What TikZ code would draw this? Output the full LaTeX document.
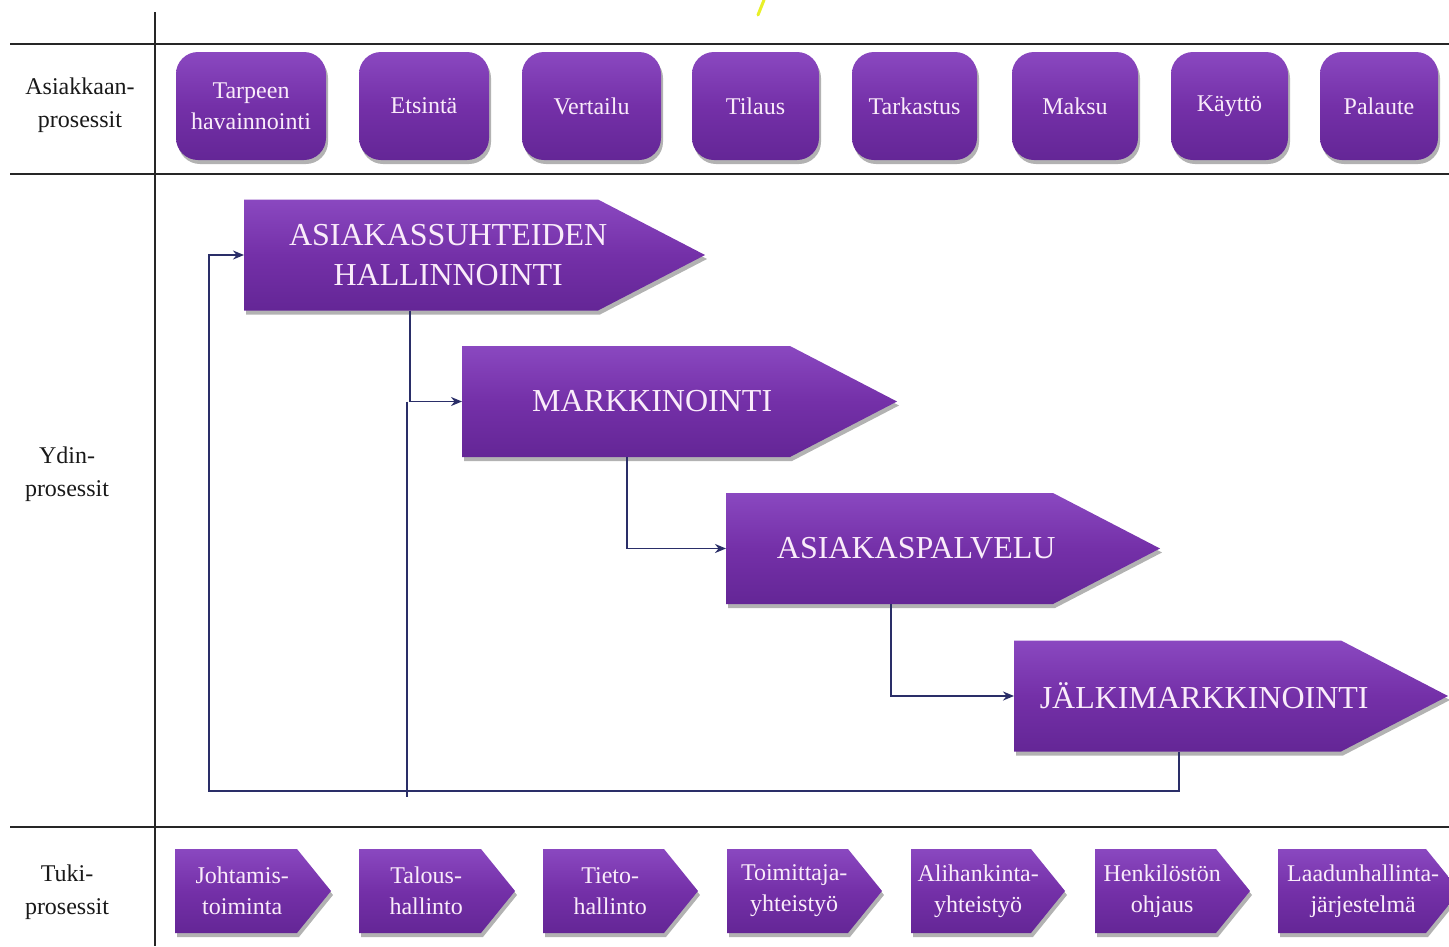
\documentclass[tikz,border=0pt]{standalone}
\usepackage{fontspec}
\setmainfont{Liberation Serif}
\usetikzlibrary{shadows,backgrounds,calc,arrows.meta}

\definecolor{procpurple}{RGB}{116,48,168}
\definecolor{proclight}{RGB}{138,72,192}
\definecolor{procdark}{RGB}{100,38,150}
\definecolor{proctext}{RGB}{250,236,250}
\definecolor{flowline}{RGB}{42,46,104}
\definecolor{stray}{RGB}{232,240,40}

\tikzset{
  lanerule/.style={line width=1.6pt, black!85},
  lanelabel/.style={align=center, font=\fontsize{24}{33}\selectfont, text=black!90},
  purplefill/.style={top color=proclight, bottom color=procdark, middle color=procpurple,
    drop shadow={shadow xshift=2pt, shadow yshift=-4pt, opacity=0.3, fill=black}},
  custbox/.style={purplefill, rounded corners=22pt, minimum height=108pt,
    align=center, text=proctext, font=\fontsize{24}{31}\selectfont, inner sep=0pt},
  corenode/.style={anchor=west, minimum width=380pt, minimum height=111pt, inner sep=0pt,
    align=center, text=proctext, font=\fontsize{32}{40}\selectfont},
  supportnode/.style={anchor=west, minimum height=84pt, inner sep=0pt,
    align=center, text=proctext, font=\fontsize{24}{31}\selectfont},
  flow/.style={draw=flowline, line width=1.8pt, -{Stealth[length=11pt,width=9pt]}},
  flowplain/.style={draw=flowline, line width=1.8pt},
}

% core process arrow: name, left x, centre y, body length, text (node options first)
\newcommand\corearrow[6][]{%
  \node[corenode,#1] (#2) at (#3,#4) {#6};
  \begin{scope}[on background layer]
    \path[purplefill] (#3,#4-55.5) -- (#3+#5,#4-55.5) -- (#3+#5+107,#4)
      -- (#3+#5,#4+55.5) -- (#3,#4+55.5) -- cycle;
  \end{scope}}

% support process arrow: name, left x, node width, body length, text
\newcommand\supportarrow[5]{%
  \node[supportnode, minimum width=#3pt] (#1) at (#2,891) {#5};
  \begin{scope}[on background layer]
    \path[purplefill] (#2,849) -- (#2+#4,849) -- (#2+#4+34,891)
      -- (#2+#4,933) -- (#2,933) -- cycle;
  \end{scope}}

\begin{document}
\begin{tikzpicture}[x=1pt, y=-1pt]
\useasboundingbox (0,0) rectangle (1449,946);

% lane grid
\draw[lanerule] (155,12) -- (155,946);
\draw[lanerule] (10,44) -- (1449,44);
\draw[lanerule] (10,174) -- (1449,174);
\draw[lanerule] (10,827) -- (1449,827);

% small yellow stroke at the top edge
\draw[stray, line width=3pt, line cap=round] (764,0) -- (758,15);

% lane labels
\node[lanelabel] (lblcust) at (80,105) {Asiakkaan-\\prosessit};
\node[lanelabel] (lblcore) at (67,474) {Ydin-\\prosessit};
\node[lanelabel] (lblsupp) at (67,892) {Tuki-\\prosessit};

% customer processes
\node[custbox, minimum width=150pt] (c1) at (251,106) {Tarpeen\\havainnointi};
\node[custbox, minimum width=130pt] (c2) at (424,106) {Etsintä};
\node[custbox, minimum width=139pt] (c3) at (591.5,106) {Vertailu};
\node[custbox, minimum width=127pt] (c4) at (755.5,106) {Tilaus};
\node[custbox, minimum width=125pt] (c5) at (914.5,106) {Tarkastus};
\node[custbox, minimum width=126pt] (c6) at (1075,106) {Maksu};
\node[custbox, minimum width=117pt] (c7) at (1229.5,106) {Käyttö};
\node[custbox, minimum width=118pt] (c8) at (1379,106) {Palaute};

% core processes
\corearrow[minimum width=408pt]{crm}{244}{255}{354}{ASIAKASSUHTEIDEN\\HALLINNOINTI}
\corearrow{mark}{462}{401.5}{328}{MARKKINOINTI}
\corearrow{serv}{726}{548.5}{327}{ASIAKASPALVELU}
\corearrow{after}{1014}{696}{327}{JÄLKIMARKKINOINTI}

% flow between core processes
\coordinate (loopjoin) at (407,797);
\coordinate (loopcorner) at (209,791);
\draw[flow] ([xshift=166pt]crm.south west) |- (mark.west);
\draw[flowplain] (mark.west -| loopjoin) -- (loopjoin);
\draw[flow] ([xshift=165pt]mark.south west) |- (serv.west);
\draw[flow] ([xshift=165pt]serv.south west) |- (after.west);
\draw[flow] ([xshift=165pt]after.south west) |- (loopcorner) |- (crm.west);

% support processes
\supportarrow{s1}{175}{134}{122}{Johtamis-\\toiminta}
\supportarrow{s2}{359}{134}{122}{Talous-\\hallinto}
\supportarrow{s3}{543}{134}{121}{Tieto-\\hallinto}
\supportarrow{s4}{727}{134}{121}{Toimittaja-\\yhteistyö}
\supportarrow{s5}{911}{134}{120}{Alihankinta-\\yhteistyö}
\supportarrow{s6}{1095}{134}{121}{Henkilöstön\\ohjaus}
\supportarrow{s7}{1278}{170}{148}{Laadunhallinta-\\järjestelmä}
\end{tikzpicture}
\end{document}
